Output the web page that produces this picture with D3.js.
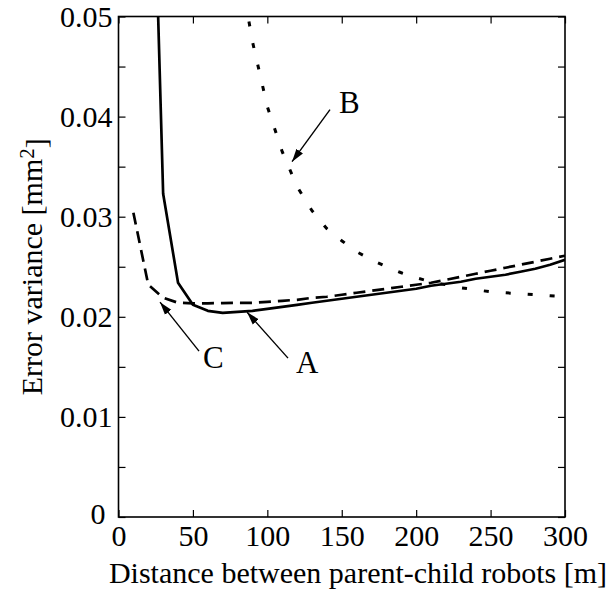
<!DOCTYPE html>
<html>
<head>
<meta charset="utf-8">
<script src="https://cdn.jsdelivr.net/npm/d3@7"></script>
<style>
html,body{margin:0;padding:0;background:#fff;}
svg{display:block;}
text{font-family:"Liberation Serif","Times New Roman",serif;fill:#000;}
</style>
</head>
<body>
<svg id="chart" width="609" height="591"></svg>
<script>
// ---- data ----
const xA = [20,30,40,50,60,70,80,90,100,110,120,130,140,150,160,170,180,190,200,210,220,230,240,250,260,270,280,290,300];
const yA = [0.085,0.0323,0.0234,0.0212,0.0206,0.0204,0.0205,0.0206,0.0208,0.0210,0.0212,0.0214,0.0216,0.0218,0.0220,0.0222,0.0224,0.0226,0.0228,0.0231,0.0233,0.0235,0.0238,0.0240,0.0242,0.0245,0.0248,0.0252,0.0257];
const xB = [80,90,100,110,120,130,140,150,160,170,180,190,200,210,220,230,240,250,260,270,280,290,300];
const yB = [0.056,0.0475,0.0410,0.0365,0.0330,0.0306,0.0288,0.0276,0.0265,0.0257,0.0250,0.0244,0.0239,0.0235,0.0232,0.0229,0.0227,0.0225,0.0224,0.0223,0.0222,0.0221,0.0220];
const xC = [10,20,30,40,50,60,70,80,90,100,110,120,130,140,150,160,170,180,190,200,210,220,230,240,250,260,270,280,290,300];
const yC = [0.0304,0.0232,0.0219,0.0214,0.02135,0.02135,0.02137,0.0214,0.0214,0.0215,0.0216,0.0217,0.0219,0.0220,0.0222,0.0224,0.0226,0.0228,0.0230,0.0232,0.0234,0.0237,0.0240,0.0243,0.0246,0.0249,0.0252,0.0255,0.0258,0.0261];
const xTicks = [0,50,100,150,200,250,300];
const yTicks = [0,0.005,0.01,0.015,0.02,0.025,0.03,0.035,0.04,0.045,0.05];
const yTickLabels = ["0","","0.01","","0.02","","0.03","","0.04","","0.05"];
const xLabel = "Distance between parent-child robots [m]";
const yLabel = "Error variance [mm";
// annotations: label, arrow tip (data), arrow tail (data), label position (data)
const annLabels = ["A","B","C"];
const annTip  = [[86.4,0.02046],[116.6,0.0355],[27.9,0.02146]];
const annTail = [[113.9,0.01587],[142.1,0.0407],[54.1,0.01657]];
const annText = [[119.3,0.01437],[148.2,0.0404],[56.8,0.01487]];

// ---- layout ----
const L = 118.5, R = 565, T = 16.5, B = 517;
const svg = d3.select("#chart");
const x = d3.scaleLinear().domain([0,300]).range([L,R]);
const y = d3.scaleLinear().domain([0,0.05]).range([B,T]);
const FS = 30;

svg.append("defs").append("clipPath").attr("id","clip")
  .append("rect").attr("x",L).attr("y",T).attr("width",R-L).attr("height",B-T);
const mk = svg.select("defs").append("marker").attr("id","arr")
  .attr("markerUnits","userSpaceOnUse").attr("markerWidth",14).attr("markerHeight",10)
  .attr("viewBox","0 -5 14 10").attr("refX",13).attr("refY",0).attr("orient","auto");
mk.append("path").attr("d","M0,-4L13,0L0,4Z").attr("fill","#000");

// axes
const tick = 7;
const gL = svg.append("g").attr("transform",`translate(${L},0)`)
  .call(d3.axisLeft(y).tickValues(yTicks).tickSize(-tick).tickPadding(6)
    .tickFormat((d,i)=>yTickLabels[i]));
const gR = svg.append("g").attr("transform",`translate(${R},0)`)
  .call(d3.axisRight(y).tickValues(yTicks).tickSize(-tick).tickFormat(""));
const gB = svg.append("g").attr("transform",`translate(0,${B})`)
  .call(d3.axisBottom(x).tickValues(xTicks).tickSize(-tick).tickPadding(8)
    .tickFormat(d=>String(d)));
const gT = svg.append("g").attr("transform",`translate(0,${T})`)
  .call(d3.axisTop(x).tickValues(xTicks).tickSize(-tick).tickFormat(""));
[gL,gR,gB,gT].forEach(g=>{
  g.attr("font-family",null).attr("font-size",null);
  g.select(".domain").remove();
  g.selectAll(".tick line").attr("stroke","#000").attr("stroke-width",1.2);
  g.selectAll("text").style("font-family",'"Liberation Serif","Times New Roman",serif').style("font-size",FS+"px").attr("fill","#000");
});
gB.selectAll(".tick text").attr("dy","0.7em");
// the zero label on the y axis sits slightly further left in the reference
gL.selectAll(".tick text").filter(d=>d===0).attr("x",-13).attr("dy","0.2em");
svg.append("rect").attr("x",L).attr("y",T).attr("width",R-L).attr("height",B-T)
  .attr("fill","none").attr("stroke","#000").attr("stroke-width",1.6);

// lines
const line = d3.line().x(d=>x(d[0])).y(d=>y(d[1]));
const plot = svg.append("g").attr("clip-path","url(#clip)");
plot.append("path").datum(xA.map((v,i)=>[v,yA[i]])).attr("d",line)
  .attr("fill","none").attr("stroke","#000").attr("stroke-width",2.7).attr("stroke-linejoin","round");
plot.append("path").datum(xC.map((v,i)=>[v,yC[i]])).attr("d",line)
  .attr("fill","none").attr("stroke","#000").attr("stroke-width",2.7).attr("stroke-dasharray","12,7");
plot.append("path").datum(xB.map((v,i)=>[v,yB[i]])).attr("d",line)
  .attr("fill","none").attr("stroke","#000").attr("stroke-width",3).attr("stroke-dasharray","5,17");

// annotations
annLabels.forEach((lab,i)=>{
  svg.append("line")
    .attr("x1",x(annTail[i][0])).attr("y1",y(annTail[i][1]))
    .attr("x2",x(annTip[i][0])).attr("y2",y(annTip[i][1]))
    .attr("stroke","#000").attr("stroke-width",1.4).attr("marker-end","url(#arr)");
  svg.append("text").attr("x",x(annText[i][0])).attr("y",y(annText[i][1]))
    .style("font-size",(FS+1)+"px").text(lab);
});

// axis titles
svg.append("text").attr("x",358).attr("y",583).attr("text-anchor","middle")
  .style("font-size",FS+"px").text(xLabel);
const yt = svg.append("text").attr("transform",`translate(42,${(T+B)/2}) rotate(-90)`)
  .attr("text-anchor","middle").style("font-size",FS+"px");
yt.append("tspan").text(yLabel);
yt.append("tspan").attr("dy","-0.4em").style("font-size",(FS*0.7)+"px").text("2");
yt.append("tspan").attr("dy","0.4em").text("]");
</script>
</body>
</html>
